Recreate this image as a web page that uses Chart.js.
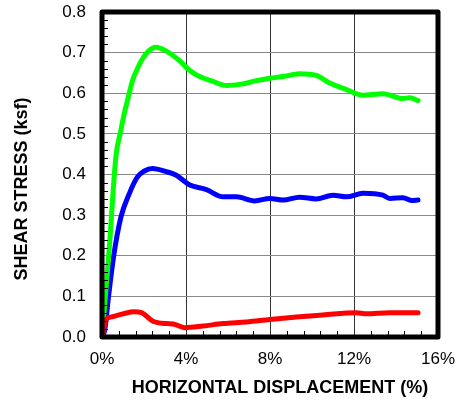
<!DOCTYPE html>
<html>
<head>
<meta charset="utf-8">
<script src="https://cdn.jsdelivr.net/npm/chart.js@4"></script>
<style>
  body { margin: 0; background: #fff; }
  #wrap { width: 456px; height: 402px; }
</style>
</head>
<body>
<div id="wrap"><canvas id="myChart" width="456" height="402"></canvas></div>
<script>
// datos (desplazamiento % , esfuerzo ksf)
const greenX = [0, 0.34, 0.66, 0.9, 1.06, 1.25, 1.45, 1.7, 1.93, 2.2, 2.56, 3.02, 3.7, 4.18, 4.65, 5.29, 5.92, 6.71, 7.35, 8.0, 8.62, 9.41, 10.2, 10.84, 11.64, 12.43, 13.38, 14.33, 14.65, 15.05];
const greenY = [0, 0.214, 0.443, 0.509, 0.55, 0.59, 0.631, 0.662, 0.685, 0.703, 0.713, 0.705, 0.68, 0.656, 0.641, 0.629, 0.619, 0.623, 0.631, 0.637, 0.641, 0.648, 0.644, 0.625, 0.609, 0.595, 0.599, 0.587, 0.589, 0.582];

const blueX = [0, 0.13, 0.31, 0.55, 0.9, 1.3, 1.69, 2.0, 2.4, 3.07, 3.54, 4.18, 4.97, 5.76, 6.4, 7.27, 7.99, 8.62, 9.41, 10.2, 11.0, 11.64, 12.43, 13.38, 13.7, 14.33, 14.73, 15.05];
const blueY = [0, 0.017, 0.099, 0.197, 0.295, 0.353, 0.394, 0.408, 0.415, 0.407, 0.398, 0.374, 0.363, 0.345, 0.345, 0.335, 0.341, 0.337, 0.344, 0.34, 0.349, 0.345, 0.354, 0.349, 0.341, 0.343, 0.336, 0.337];

const redX = [0, 0.05, 0.18, 0.5, 1.0, 1.53, 1.88, 2.43, 3.07, 3.4, 3.94, 4.81, 5.76, 6.88, 8.0, 9.26, 10.52, 12.1, 12.59, 13.7, 15.05];
const redY = [0, 0.01, 0.042, 0.05, 0.057, 0.062, 0.060, 0.039, 0.033, 0.032, 0.023, 0.027, 0.033, 0.037, 0.043, 0.049, 0.054, 0.060, 0.057, 0.060, 0.060];

const xTicks = [0, 4, 8, 12, 16];
const yTicks = [0, 0.1, 0.2, 0.3, 0.4, 0.5, 0.6, 0.7, 0.8];

const xTitle = "HORIZONTAL DISPLACEMENT (%)";
const yTitle = "SHEAR STRESS (ksf)";

const fuente = '"Liberation Sans", Arial, sans-serif';

function puntos(xs, ys) {
    return xs.map((x, i) => ({ x: x, y: ys[i] }));
}

function serie(xs, ys, color) {
    return {
        data: puntos(xs, ys),
        borderColor: color,
        backgroundColor: color,
        borderWidth: 5,
        pointRadius: 0,
        cubicInterpolationMode: "monotone",
        borderCapStyle: "round",
        borderJoinStyle: "round",
        fill: false
    };
}

// sin padding extra de las escalas, el area queda fija
function sinPadding(s) {
    s.paddingLeft = 0;
    s.paddingRight = 0;
    s.paddingTop = 0;
    s.paddingBottom = 0;
}

// marco grueso, ticks menores y titulos de ejes
const marco = {
    id: "marco",
    afterDraw(chart) {
        const ctx = chart.ctx;
        const a = chart.chartArea;
        const sx = chart.scales.x;
        const sy = chart.scales.y;
        ctx.save();
        ctx.strokeStyle = "#000";
        ctx.lineWidth = 1;
        ctx.beginPath();
        for (let v = 0.8; v < 16; v += 0.8) {
            if (Math.abs(v / 4 - Math.round(v / 4)) < 0.01) continue;
            const px = Math.round(sx.getPixelForValue(v)) + 0.5;
            ctx.moveTo(px, a.bottom);
            ctx.lineTo(px, a.bottom - 6);
        }
        for (let v = 0.02; v < 0.8; v += 0.02) {
            if (Math.abs(v / 0.1 - Math.round(v / 0.1)) < 0.01) continue;
            const py = Math.round(sy.getPixelForValue(v)) + 0.5;
            ctx.moveTo(a.left, py);
            ctx.lineTo(a.left + 6, py);
        }
        ctx.stroke();

        ctx.lineWidth = 5;
        ctx.lineJoin = "round";
        ctx.strokeRect(a.left, a.top, a.right - a.left, a.bottom - a.top);

        ctx.fillStyle = "#000";
        ctx.font = "bold 18px " + fuente;
        ctx.textAlign = "center";
        ctx.textBaseline = "middle";
        ctx.fillText(xTitle, 280, 388);
        ctx.translate(22, 189);
        ctx.rotate(-Math.PI / 2);
        ctx.fillText(yTitle, 0, 0);
        ctx.restore();
    }
};

const config = {
    type: "line",
    data: {
        datasets: [
            serie(redX, redY, "#ff0000"),
            serie(greenX, greenY, "#00ff00"),
            serie(blueX, blueY, "#0000ff")
        ]
    },
    options: {
        responsive: false,
        animation: false,
        layout: { padding: { left: 0, right: 18, top: 12, bottom: 0 } },
        plugins: {
            legend: { display: false },
            tooltip: { enabled: false }
        },
        scales: {
            x: {
                type: "linear",
                min: 0,
                max: 16,
                afterBuildTicks: (s) => { s.ticks = xTicks.map(v => ({ value: v })); },
                afterFit: (s) => { s.height = 65; sinPadding(s); },
                ticks: {
                    color: "#000",
                    padding: 12,
                    maxRotation: 0,
                    font: { family: fuente, size: 17 },
                    callback: (v) => v + "%"
                },
                grid: { color: "#333", lineWidth: 1, drawTicks: false },
                border: { display: false }
            },
            y: {
                type: "linear",
                min: 0,
                max: 0.8,
                afterBuildTicks: (s) => { s.ticks = yTicks.map(v => ({ value: v })); },
                afterFit: (s) => { s.width = 102; sinPadding(s); },
                ticks: {
                    color: "#000",
                    padding: 16,
                    font: { family: fuente, size: 17 },
                    callback: (v) => Number(v).toFixed(1)
                },
                grid: { color: "#888", lineWidth: 1, drawTicks: false },
                border: { display: false }
            }
        }
    },
    plugins: [marco]
};

new Chart(document.getElementById("myChart"), config);
</script>
</body>
</html>
